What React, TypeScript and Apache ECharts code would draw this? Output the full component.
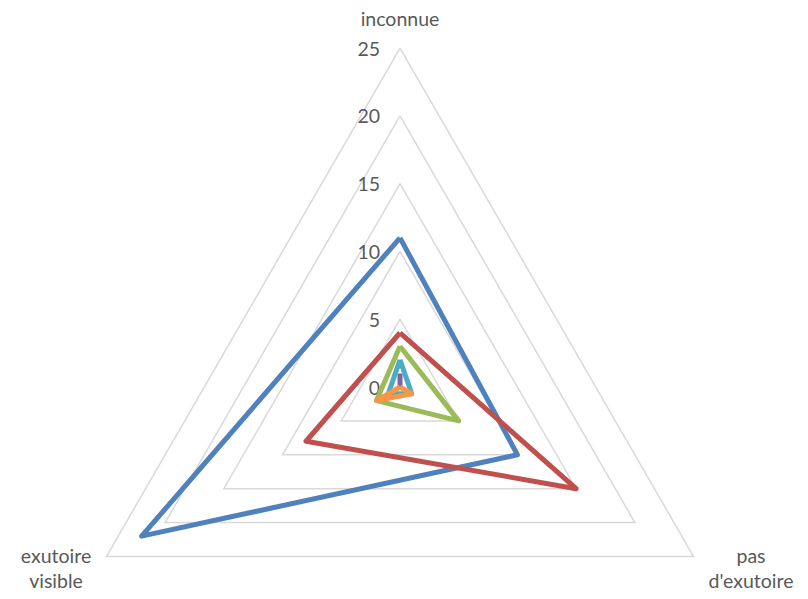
import React, { useEffect, useRef } from "react";
import * as echarts from "echarts";

const indicatorNames = ["inconnue", "exutoire\nvisible", "pas\nd'exutoire"];
const axisMax = 25;
const tickInterval = 5;
const seriesNames = ["Série 1", "Série 2", "Série 3", "Série 4", "Série 5", "Série 6"];
const seriesColors = ["#4F81BD", "#C0504D", "#9BBB59", "#8064A2", "#4BACC6", "#F79646"];
// values in indicator order: inconnue, exutoire visible, pas d'exutoire
const blueValues = [11, 22, 10];
const redValues = [4, 8, 15];
const greenValues = [3, 2, 5];
const purpleValues = [1, 0, 0];
const tealValues = [2, 1, 1];
const orangeValues = [0, 2, 1];
const allValues = [blueValues, redValues, greenValues, purpleValues, tealValues, orangeValues];

const FONT = "Lato, 'Open Sans', sans-serif";
const TXT = "#595959";
const FS = 19.5;

export default function App() {
  const ref = useRef<HTMLDivElement>(null);
  useEffect(() => {
    const chart = echarts.init(ref.current!, undefined, { renderer: "svg" });
    const cx = 400;
    const cy = 387;
    const r = 339;
    chart.setOption({
      animation: false,
      textStyle: { fontFamily: FONT },
      radar: {
        center: [cx, cy],
        radius: r,
        startAngle: 90,
        shape: "polygon",
        splitNumber: 5,
        indicator: indicatorNames.map((n) => ({ name: n, min: 0, max: axisMax })),
        axisName: { show: false },
        axisLine: { show: false },
        axisTick: { show: false },
        axisLabel: { show: false },
        splitArea: { show: false },
        splitLine: { lineStyle: { color: "#D9D9D9", width: 1.5 } },
      },
      grid: { left: cx, width: 100, top: cy - r, height: r },
      xAxis: { type: "value", show: false },
      yAxis: {
        type: "value",
        position: "left",
        min: 0,
        max: axisMax,
        interval: tickInterval,
        axisLine: { show: false },
        axisTick: { show: false },
        splitLine: { show: false },
        axisLabel: {
          margin: 20,
          color: TXT,
          fontSize: FS,
          fontFamily: FONT,
        },
      },
      graphic: [
        { type: "text", x: 400, y: 18, style: { text: "inconnue", fill: TXT, font: `${FS}px ${FONT}`, align: "center", verticalAlign: "middle" } },
        { type: "text", x: 56, y: 568, style: { text: "exutoire\nvisible", fill: TXT, font: `${FS}px ${FONT}`, align: "center", verticalAlign: "middle", lineHeight: 25 } },
        { type: "text", x: 751, y: 568, style: { text: "pas\nd'exutoire", fill: TXT, font: `${FS}px ${FONT}`, align: "center", verticalAlign: "middle", lineHeight: 25 } },
      ],
      series: allValues.map((vals, i) => ({
        type: "radar",
        name: seriesNames[i],
        symbol: "none",
        z: 2 + i,
        lineStyle: { color: seriesColors[i], width: 5 },
        itemStyle: { color: seriesColors[i] },
        data: [{ value: vals, name: seriesNames[i] }],
      })),
    });
    return () => chart.dispose();
  }, []);
  return <div ref={ref} style={{ position: "absolute", left: 0, top: 0, width: 808, height: 599 }} />;
}
